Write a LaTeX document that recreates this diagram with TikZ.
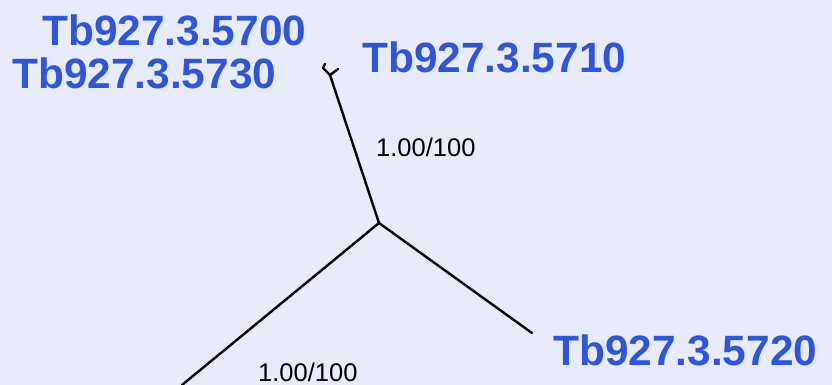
\documentclass[tikz,border=0pt]{standalone}
\usepackage{fontspec}
\setmainfont{Liberation Sans}
\definecolor{bgcol}{HTML}{E8ECFA}
\definecolor{leafblue}{HTML}{2F55DD}
\begin{document}
\begin{tikzpicture}[x=1pt,y=-1pt,
  leaf/.style={anchor=west,inner sep=0pt,text=leafblue,font=\fontsize{42.4}{48}\selectfont\bfseries},
  support/.style={anchor=west,inner sep=0pt,text=black,font=\fontsize{25.5}{30}\selectfont},
  branch/.style={draw=black,line width=2.4pt,line cap=round,line join=round}]
  % canvas
  \fill[bgcol] (0,0) rectangle (832,385);
  \useasboundingbox (0,0) rectangle (832,385);

  % tree vertices
  \coordinate (root) at (379,223);
  \coordinate (fork) at (330,75);
  \coordinate (tipA) at (323,68);
  \coordinate (tipAh) at (325,64);
  \coordinate (tipB) at (338,69);
  \coordinate (tipC) at (532,333);
  \coordinate (tipD) at (182,385);

  % branches
  \begin{scope}
    \clip (0,0) rectangle (832,385);
    \draw[branch] (root) -- (fork);
    \draw[branch] (fork) -- (tipA) -- (tipAh);
    \draw[branch] (fork) -- (tipB);
    \draw[branch] (root) -- (tipC);
    \draw[branch] (root) -- (tipD);
  \end{scope}

  % leaf labels
  \node[leaf] (l5700) at (42,30) {Tb927.3.5700};
  \node[leaf] (l5730) at (12,73) {Tb927.3.5730};
  \node[leaf] (l5710) at (362,57) {Tb927.3.5710};
  \node[leaf] (l5720) at (553,350) {Tb927.3.5720};

  % branch support values
  \node[support] (s1) at (376,147) {1.00/100};
  \node[support] (s2) at (258,372) {1.00/100};
\end{tikzpicture}
\end{document}
